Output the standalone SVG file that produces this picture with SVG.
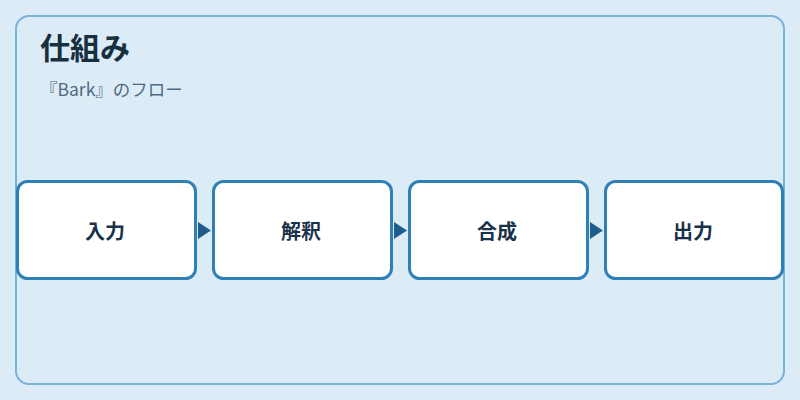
<svg xmlns="http://www.w3.org/2000/svg" width="800" height="400" viewBox="0 0 800 400">
<style>
.node rect{fill:#ffffff;stroke:#2f80b7;stroke-width:3}
.node text{font-family:"Noto Sans CJK JP","Noto Sans",sans-serif;font-size:20px;font-weight:600;fill:#18324a;text-anchor:middle}
.title{font-family:"Noto Sans CJK JP","Noto Sans",sans-serif;font-size:30px;font-weight:700;fill:#17303f}
.sub{font-family:"Noto Sans CJK JP","Noto Sans",sans-serif;font-size:17.5px;fill:#4e6b83}
.conn path{fill:#1f5d8c}
</style>
<rect x="0" y="0" width="800" height="400" fill="#dcecf7"/>
<rect x="16" y="16" width="768" height="368" rx="13" fill="#dcecf7" stroke="#7cb2d6" stroke-width="2"/>
<text class="title" x="40" y="59">仕組み</text>
<text class="sub" x="40" y="96">『Bark』のフロー</text>
<g id="connectors" class="conn">
<path d="M198 222 L211 230.5 L198 239 Z"/>
<path d="M394 222 L407 230.5 L394 239 Z"/>
<path d="M590 222 L603 230.5 L590 239 Z"/>
</g>
<g id="node-input" class="node">
<rect x="17.5" y="181.5" width="178" height="97" rx="10"/>
<text x="105" y="239">入力</text>
</g>
<g id="node-parse" class="node">
<rect x="213.5" y="181.5" width="178" height="97" rx="10"/>
<text x="301" y="239">解釈</text>
</g>
<g id="node-synth" class="node">
<rect x="409.5" y="181.5" width="178" height="97" rx="10"/>
<text x="497" y="239">合成</text>
</g>
<g id="node-output" class="node">
<rect x="605.5" y="181.5" width="177" height="97" rx="10"/>
<text x="693" y="239">出力</text>
</g>
</svg>
